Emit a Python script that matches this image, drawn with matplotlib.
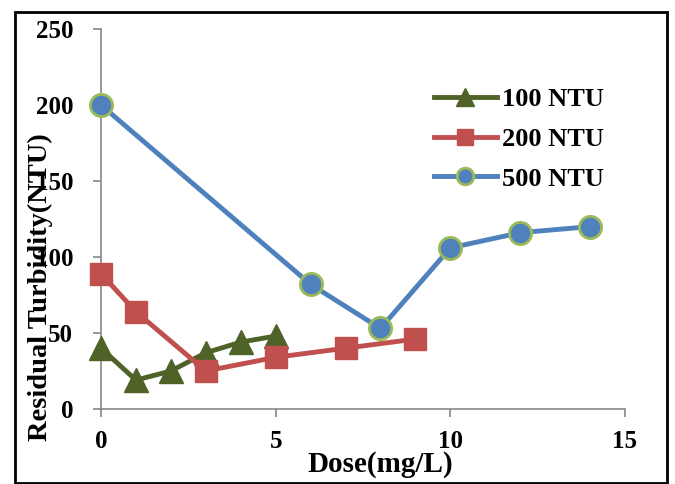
import matplotlib

matplotlib.use("Agg")
import matplotlib.pyplot as plt
from matplotlib.patches import Rectangle

# data
dose_100 = [0, 1, 2, 3, 4, 5]
turb_100 = [40, 19, 25, 37, 44, 48]

dose_200 = [0, 1, 3, 5, 7, 9]
turb_200 = [89, 64, 25, 34, 40, 46]

dose_500 = [0, 6, 8, 10, 12, 14]
turb_500 = [200, 82, 53, 106, 116, 120]

x_ticks = [0, 5, 10, 15]
y_ticks = [0, 50, 100, 150, 200, 250]

plt.rcParams["font.family"] = ["Liberation Serif", "DejaVu Serif"]
plt.rcParams["font.weight"] = "bold"

W, H = 675, 484
fig = plt.figure(figsize=(W / 100, H / 100), dpi=100)
ax = fig.add_axes([101 / W, 1 - 409 / H, 524 / W, 380 / H])

ax.plot(dose_100, turb_100, color="#4F6228", linewidth=3.5, marker="^",
        markersize=17, label="100 NTU", zorder=3)
ax.plot(dose_200, turb_200, color="#C0504D", linewidth=3.5, marker="s",
        markersize=16, label="200 NTU", zorder=3)
ax.plot(dose_500, turb_500, color="#4F81BD", linewidth=3.5, marker="o",
        markersize=16, markeredgecolor="#9BBB59", markeredgewidth=2,
        label="500 NTU", zorder=3)

ax.set_xlim(0, 15)
ax.set_ylim(0, 250)
ax.set_xticks(x_ticks)
ax.set_yticks(y_ticks)
for line in ax.lines:
    line.set_clip_on(False)

for side in ["top", "right"]:
    ax.spines[side].set_visible(False)
for side in ["left", "bottom"]:
    ax.spines[side].set_color("#868686")
    ax.spines[side].set_linewidth(1.2)
ax.tick_params(axis="both", direction="out", length=6, color="#868686",
               labelsize=18, width=1.2)
ax.tick_params(axis="y", pad=14)
ax.tick_params(axis="x", pad=9)
for lbl in ax.get_xticklabels() + ax.get_yticklabels():
    lbl.set_fontweight("bold")

ax.legend(loc="upper left", bbox_to_anchor=(423 / W, 1 - 77 / H),
          bbox_transform=fig.transFigure, frameon=False,
          handlelength=2.4, labelspacing=0.62, handletextpad=0.2,
          borderaxespad=0, markerscale=0.75,
          prop={"weight": "bold", "size": 19})

fig.text(380 / W, 1 - 464 / H, "Dose(mg/L)", ha="center", va="center",
         fontsize=21, fontweight="bold")
fig.text(40 / W, 1 - 287 / H, "Residual Turbidity(NTU)", ha="center",
         va="center", rotation=90, fontsize=20.5, fontweight="bold")

fig.patches.append(Rectangle((15 / W, 1 - 483 / H), 652 / W, 471 / H,
                             transform=fig.transFigure, fill=False,
                             edgecolor="black", linewidth=2))

fig.savefig("out.png", dpi=100)
